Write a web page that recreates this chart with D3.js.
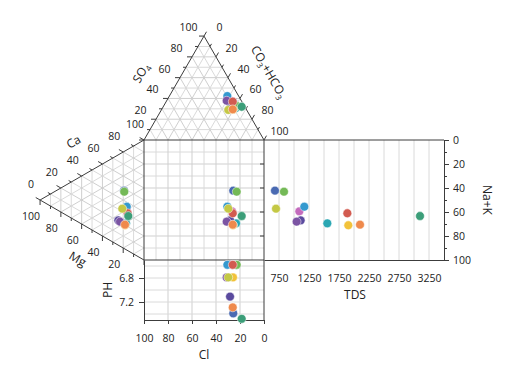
<!DOCTYPE html>
<html>
<head>
<meta charset="utf-8">
<script src="https://cdn.jsdelivr.net/npm/d3@7"></script>
<style>
    body { margin: 0; background: #fff; }
    #chart svg { display: block; font-family: "Open Sans", sans-serif; }
</style>
</head>
<body>
<div id="chart"></div>
<script>
// sample colours, in drawing order
const colors = ["#4a6ab2", "#2ba7b3", "#74b957", "#c36bbd", "#5a4a9e", "#f2c23a",
                "#3499cf", "#7b54a3", "#d25b50", "#3c9e79", "#c4c845", "#ef8a4c"];

// anion triangle, % (Cl = 100 - SO4 - HCO3)
const so4  = [36.6, 30.8, 32.7, 37.5, 35.6, 29.3, 42.3, 37.8, 36.9, 32.0, 28.9, 29.5];
const hco3 = [56.1, 61.3, 60.9, 54.6, 53.9, 59.5, 48.3, 50.0, 55.5, 65.4, 55.8, 59.2];

// cation triangle, % (Ca = 100 - Mg - Na+K)
const mg  = [19.2, 17.3, 19.0, 16.4, 24.7, 18.3, 16.6, 23.1, 15.7, 15.1, 20.9, 18.3];
const nak = [32.6, 60.8, 33.6, 51.2, 54.6, 61.9, 47.3, 56.5, 53.2, 55.8, 46.8, 61.4];

const tds = [683, 1555, 833, 1089, 1111, 1905, 1172, 1044, 1889, 3100, 700, 2100];
const ph  = [7.39, 6.58, 6.58, 6.58, 7.11, 6.79, 6.58, 6.79, 6.58, 7.48, 6.79, 7.29];

// tick labels
const triTicks = [0, 20, 40, 60, 80, 100];
const clTicks = [100, 80, 60, 40, 20, 0];
const nakTicks = [0, 20, 40, 60, 80, 100];
const tdsTicks = [750, 1250, 1750, 2250, 2750, 3250];
const phTicks = [6.8, 7.2];

// layout
const S = 120, H = S * Math.sqrt(3) / 2;
const X0 = 144, Y0 = 140;
const gridColor = "#dadada", axisColor = "#3c3c3c", textColor = "#222";

const xCl = d3.scaleLinear().domain([100, 0]).range([X0, X0 + S]);
const yNa = d3.scaleLinear().domain([0, 100]).range([Y0, Y0 + S]);
const ySo4 = d3.scaleLinear().domain([0, 100]).range([Y0, Y0 - H]);
const xMg = d3.scaleLinear().domain([0, 100]).range([X0, X0 - H]);
const xTds = d3.scaleLinear().domain([500, 3500]).range([X0 + S, X0 + S + 180]);
const yPh = d3.scaleLinear().domain([6.5, 7.5]).range([Y0 + S, Y0 + S + 60]);

// ternary -> page
const topPt = (s, h) => [xCl(100 - h - s / 2), ySo4(s)];
const leftPt = (m, n) => [xMg(m), yNa(n + m / 2)];

const svg = d3.select("#chart")
    .append("svg")
    .attr("width", 512)
    .attr("height", 382);

function seg(g, a, b, color, w = 1) {
    g.append("line")
        .attr("x1", a[0]).attr("y1", a[1])
        .attr("x2", b[0]).attr("y2", b[1])
        .attr("stroke", color)
        .attr("stroke-width", w);
}

// grids
const grid = svg.append("g");
const tens = d3.range(10, 100, 10);
tens.forEach(k => {
    const c = k % 20 === 0 ? "#cfcfcf" : gridColor;
    // top triangle
    seg(grid, topPt(k, 0), topPt(k, 100 - k), c);
    seg(grid, topPt(0, k), topPt(100 - k, k), c);
    seg(grid, topPt(0, 100 - k), topPt(100 - k, 0), c);
    // left triangle
    seg(grid, leftPt(k, 0), leftPt(k, 100 - k), c);
    seg(grid, leftPt(0, k), leftPt(100 - k, k), c);
    seg(grid, leftPt(0, 100 - k), leftPt(100 - k, 0), c);
    // square
    seg(grid, [xCl(k), Y0], [xCl(k), Y0 + S], c);
    seg(grid, [X0, yNa(k)], [X0 + S, yNa(k)], c);
});
[20, 40, 60, 80].forEach(k => seg(grid, [xCl(k), yPh(6.5)], [xCl(k), yPh(7.5)], "#cfcfcf"));
[6.6, 6.8, 7.0, 7.2, 7.4].forEach(v => seg(grid, [X0, yPh(v)], [X0 + S, yPh(v)], gridColor));
d3.range(750, 3251, 250).forEach(v => seg(grid, [xTds(v), Y0], [xTds(v), Y0 + S], gridColor));

// outlines
const frame = svg.append("g");
seg(frame, topPt(0, 0), topPt(100, 0), axisColor);
seg(frame, topPt(100, 0), topPt(0, 100), axisColor);
seg(frame, topPt(0, 0), topPt(0, 100), axisColor);
seg(frame, leftPt(0, 0), leftPt(100, 0), axisColor);
seg(frame, leftPt(100, 0), leftPt(0, 100), axisColor);
seg(frame, leftPt(0, 0), leftPt(0, 100), axisColor);
seg(frame, [X0 + S, Y0], [X0 + S, yPh(7.5)], axisColor);
seg(frame, [X0, Y0 + S], [X0 + S, Y0 + S], axisColor);
seg(frame, [X0 + S, Y0], [xTds(3500), Y0], axisColor);
[20, 40, 60, 80].forEach(v => seg(frame, [X0 + S - 4, yNa(v)], [X0 + S, yNa(v)], axisColor));

// triangle side ticks + labels
const sides = [
    { pos: v => topPt(v, 0), dir: [-1, 0], nrm: [-0.866, -0.5], labels: [20, 40, 60, 80, 100] },        // SO4
    { pos: v => topPt(100 - v, v), dir: [0.5, -0.866], nrm: [0.866, -0.5], labels: triTicks },          // CO3+HCO3
    { pos: v => leftPt(100 - v, 0), dir: [-0.866, -0.5], nrm: [-0.5, -0.866], labels: triTicks },       // Ca
    { pos: v => leftPt(v, 100 - v), dir: [0, 1], nrm: [-0.5, 0.866], labels: [20, 40, 60, 80, 100] }    // Mg
];
sides.forEach(sd => {
    d3.range(0, 101, 10).forEach(v => {
        const p = sd.pos(v), len = v % 20 === 0 ? 5 : 3;
        seg(frame, p, [p[0] + sd.dir[0] * len, p[1] + sd.dir[1] * len], axisColor);
    });
    sd.labels.forEach(v => {
        const p = sd.pos(v);
        svg.append("text")
            .attr("x", p[0] + sd.nrm[0] * 18)
            .attr("y", p[1] + sd.nrm[1] * 18)
            .attr("text-anchor", "middle")
            .attr("dominant-baseline", "central")
            .style("font-size", "10.5px")
            .attr("fill", textColor)
            .text(v);
    });
});

// triangle titles, placed off the middle of their side
function title(side, dist, rot, parts) {
    const p = side.pos(50);
    const t = svg.append("text")
        .attr("transform", `translate(${p[0] + side.nrm[0] * dist},${p[1] + side.nrm[1] * dist + 4}) rotate(${rot})`)
        .attr("text-anchor", "middle")
        .style("font-size", "12px")
        .attr("fill", textColor);
    parts.forEach(([s, sub]) => {
        const ts = t.append("tspan").text(s);
        if (sub) ts.attr("dy", 3).style("font-size", "8px");
        else if (t.selectAll("tspan").size() > 1) ts.attr("dy", -3);
    });
}
title(sides[0], 34, -60, [["SO"], ["4", true]]);
title(sides[1], 36, 60, [["CO"], ["3", true], ["+HCO"], ["3", true]]);
title(sides[2], 33, -30, [["Ca"]]);
title(sides[3], 33, 30, [["Mg"]]);

// axes
function styleAxis(g) {
    g.selectAll("path, line").attr("stroke", axisColor);
    g.selectAll("text").style("font-size", "10.5px").attr("fill", textColor)
        .style("font-family", "'Open Sans', sans-serif");
}
svg.append("g")
    .attr("transform", `translate(0,${yPh(7.5)})`)
    .call(d3.axisBottom(xCl).tickValues(clTicks).tickSize(4).tickSizeOuter(0).tickPadding(11))
    .call(styleAxis);
svg.append("g")
    .attr("transform", `translate(${X0},0)`)
    .call(d3.axisLeft(yPh).tickValues(phTicks).tickFormat(d3.format(".1f")).tickSize(5).tickSizeOuter(0).tickPadding(5))
    .call(styleAxis);
svg.append("g")
    .attr("transform", `translate(0,${Y0 + S})`)
    .call(d3.axisBottom(xTds).tickValues(tdsTicks).tickFormat(d3.format("d")).tickSize(0).tickPadding(15))
    .call(styleAxis);
svg.append("g")
    .attr("transform", `translate(${xTds(3500)},0)`)
    .call(d3.axisRight(yNa).tickValues(nakTicks).tickSize(5).tickSizeOuter(0).tickPadding(4))
    .call(styleAxis);
svg.append("g")
    .attr("transform", `translate(${xTds(3500)},0)`)
    .call(d3.axisRight(yNa).tickValues([10, 30, 50, 70, 90]).tickSize(3).tickFormat(""))
    .call(g => g.select(".domain").remove())
    .call(styleAxis);

// axis titles
svg.append("text").attr("x", 204).attr("y", 354).attr("text-anchor", "middle")
    .attr("dominant-baseline", "central").style("font-size", "12px").attr("fill", textColor).text("Cl");
svg.append("text").attr("transform", "translate(107,290) rotate(-90)").attr("text-anchor", "middle")
    .attr("dominant-baseline", "central").style("font-size", "12px").attr("fill", textColor).text("PH");
svg.append("text").attr("x", 355).attr("y", 294).attr("text-anchor", "middle")
    .attr("dominant-baseline", "central").style("font-size", "12px").attr("fill", textColor).text("TDS");
svg.append("text").attr("transform", "translate(487,200) rotate(90)").attr("text-anchor", "middle")
    .attr("dominant-baseline", "central").style("font-size", "12px").attr("fill", textColor).text("Na+K");

// points
const idx = d3.range(colors.length);
const panels = [
    i => topPt(so4[i], hco3[i]),
    i => leftPt(mg[i], nak[i]),
    i => [topPt(so4[i], hco3[i])[0], leftPt(mg[i], nak[i])[1]],
    i => [xTds(tds[i]), leftPt(mg[i], nak[i])[1]],
    i => [topPt(so4[i], hco3[i])[0], yPh(ph[i])]
];
panels.forEach(f => {
    svg.append("g").selectAll("circle")
        .data(idx)
        .enter()
        .append("circle")
        .attr("cx", i => f(i)[0])
        .attr("cy", i => f(i)[1])
        .attr("r", 4.4)
        .attr("fill", i => colors[i])
        .attr("stroke", "#fff")
        .attr("stroke-width", 0.5);
});
</script>
</body>
</html>
